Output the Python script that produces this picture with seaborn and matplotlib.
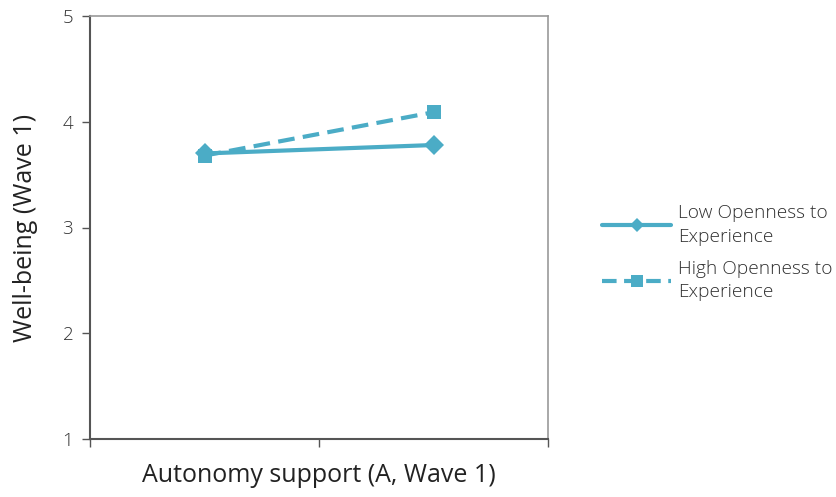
import matplotlib
matplotlib.use("Agg")
import matplotlib.pyplot as plt
import seaborn as sns
import pandas as pd
from matplotlib.lines import Line2D

# Data
positions = [1, 2]
series_names = ["Low Openness to\nExperience", "High Openness to\nExperience"]
low_values = [3.70, 3.78]
high_values = [3.68, 4.09]
y_ticks = [1, 2, 3, 4, 5]

df = pd.DataFrame({
    "x": positions * 2,
    "y": low_values + high_values,
    "group": [series_names[0]] * 2 + [series_names[1]] * 2,
})

sns.set_theme(style="white")
plt.rcParams['font.family'] = ['Open Sans', 'DejaVu Sans']
plt.rcParams['font.weight'] = 'light'

color = "#4BACC6"
fig = plt.figure(figsize=(8.36, 4.97), dpi=100)
ax = fig.add_axes([90/836, 1-439/497, (548-90)/836, (439-16)/497])

sns.lineplot(data=df, x="x", y="y", hue="group", style="group",
             palette=[color, color], markers=["D", "s"],
             dashes=[(None, None), (4, 2)], linewidth=3,
             markersize=10, markeredgewidth=0, ax=ax, legend=False)

ax.set_xlim(0.5, 2.5)
ax.set_ylim(1, 5)
ax.set_yticks(y_ticks)
ax.set_yticklabels([str(v) for v in y_ticks], fontsize=13.5, color="#303030")
ax.set_xticks([0.5, 1.5, 2.5])
ax.set_xticklabels([])
ax.tick_params(axis="both", direction="out", length=6, width=1, color="#555555", left=True, bottom=True)
ax.tick_params(axis="y", pad=6)

for side in ["left", "bottom"]:
    ax.spines[side].set_color("#555555")
    ax.spines[side].set_linewidth(1.5)
for side in ["top", "right"]:
    ax.spines[side].set_color("#999999")
    ax.spines[side].set_linewidth(1.2)

ax.set_xlabel("Autonomy support (A, Wave 1)", fontsize=18, color="#222222", labelpad=8)
ax.set_ylabel("Well-being (Wave 1)", fontsize=18, color="#222222", labelpad=18)

handles = [
    Line2D([0], [0], color=color, lw=3, marker="D", markersize=7, markeredgewidth=0),
    Line2D([0], [0], color=color, lw=3, ls=(0, (3.5, 1.8)), marker="s", markersize=9, markeredgewidth=0),
]
leg = fig.legend(handles, series_names, loc="upper left", bbox_to_anchor=(585/836, 1-187/497),
           frameon=False, fontsize=13.8, handlelength=3.6, labelspacing=0.7, handletextpad=0.35,
           labelcolor="#303030")
for t in leg.get_texts():
    t.set_linespacing(1.42)

fig.savefig("out.png", dpi=100)
